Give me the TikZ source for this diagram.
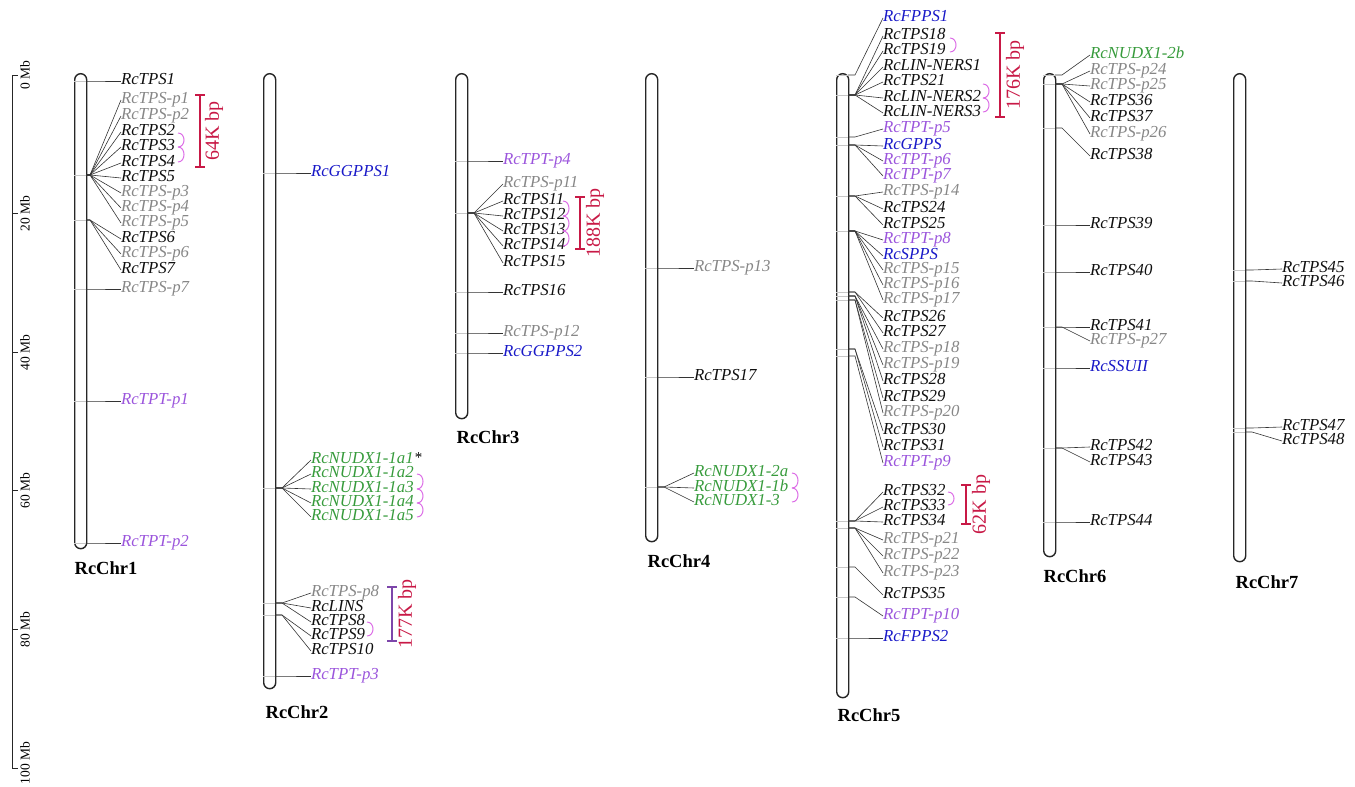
\documentclass[tikz,border=0pt]{standalone}
\usepackage{fontspec}
\setmainfont{Liberation Serif}
\definecolor{gblack}{RGB}{15,15,15}
\definecolor{ggray}{RGB}{135,135,135}
\definecolor{gpurple}{RGB}{155,85,220}
\definecolor{gblue}{RGB}{25,25,200}
\definecolor{ggreen}{RGB}{55,155,60}
\definecolor{bred}{RGB}{200,25,70}
\definecolor{bviolet}{RGB}{125,70,170}
\definecolor{dpink}{RGB}{220,110,230}
\tikzset{
 lab/.style={anchor=west,inner sep=0pt,outer sep=0pt,font=\fontsize{16.8}{17}\selectfont\itshape,text height=0.68em,text depth=0pt},
 K/.style={text=gblack}, Gy/.style={text=ggray}, Pu/.style={text=gpurple}, Bl/.style={text=gblue}, Gr/.style={text=ggreen},
 conn/.style={draw=black!80,line width=0.6pt},
 chrmark/.style={draw=black!22,line width=0.6pt},
 chrom/.style={draw=black!85,line width=1.4pt,fill=white,rounded corners=6pt,minimum width=12pt,inner sep=0pt,anchor=north west},
 chrlab/.style={font=\fontsize{18.5}{18.5}\selectfont\bfseries,inner sep=0pt},
 dup/.style={draw=dpink,line width=1pt},
 spanline/.style={line width=1.3pt},
 spanlab/.style={text=bred,font=\fontsize{20}{20}\selectfont,rotate=90,inner sep=0pt},
 scalelab/.style={font=\fontsize{13.5}{13.5}\selectfont,rotate=90,inner sep=0pt},
}
\newcommand\gn[5]{%
 \draw[chrmark] (\xr-12,#3) -- (\xr,#3);
 \coordinate (p#1) at (\xr,#3);
 \node[lab,#2] (#1) at (\xl,#4) {#5};
 \draw[conn] (p#1) -- (\xb,#3) -- (#1.west);
}
\newcommand\dupl[3]{\draw[dup] (#1,#2) .. controls +(8,0) and +(8,0) .. (#1,#3);}
\newcommand\bspan[7]{%
 \coordinate (#1t) at (#2,#3); \coordinate (#1b) at (#2,#4);
 \draw[spanline,draw=#5] (#1t) -- (#1b) (#2-5,#3) -- (#2+5,#3) (#2-5,#4) -- (#2+5,#4);
 \node[spanlab] (#1l) at (#6,#3/2+#4/2) {#7};
}
\begin{document}
\begin{tikzpicture}[x=1pt,y=-1pt]
\useasboundingbox (0,0) rectangle (1355,787);
% scale bar
\draw[line width=0.9pt,black!85] (12,75) -- (12,768);
\foreach \v in {0,20,40,60,80,100}{
 \draw[line width=0.9pt,black!85] (12,75+6.93*\v) -- (18,75+6.93*\v);
}
\node[scalelab] (s0) at (25,75) {0 Mb};
\node[scalelab] (s20) at (25,213.6) {20 Mb};
\node[scalelab] (s40) at (25,352.2) {40 Mb};
\node[scalelab] (s60) at (25,490.8) {60 Mb};
\node[scalelab] (s80) at (25,629.4) {80 Mb};
\node[scalelab] (s100) at (25,763) {100 Mb};
% chromosomes
\node[chrom,minimum height=475pt] (chr1) at (74,73) {};
\node[chrom,minimum height=615pt] (chr2) at (263,73) {};
\node[chrom,minimum height=345pt] (chr3) at (455,73) {};
\node[chrom,minimum height=468pt] (chr4) at (645,73) {};
\node[chrom,minimum height=624pt] (chr5) at (836,73) {};
\node[chrom,minimum height=483pt] (chr6) at (1043,73) {};
\node[chrom,minimum height=488pt] (chr7) at (1233,73) {};
\node[chrlab] (l1) at (106,568) {RcChr1};
\node[chrlab] (l2) at (297,712) {RcChr2};
\node[chrlab] (l3) at (488,437) {RcChr3};
\node[chrlab] (l4) at (679,561) {RcChr4};
\node[chrlab] (l5) at (869,715) {RcChr5};
\node[chrlab] (l6) at (1075,576) {RcChr6};
\node[chrlab] (l7) at (1267,582) {RcChr7};
% chr1
\def\xr{86}\def\xb{90}\def\xl{121}
\gn{c1a}{K}{81}{81}{RcTPS1}
\gn{c1b}{Gy}{175}{100}{RcTPS-p1}
\gn{c1c}{Gy}{175}{116}{RcTPS-p2}
\gn{c1d}{K}{175}{132}{RcTPS2}
\gn{c1e}{K}{175}{147}{RcTPS3}
\gn{c1f}{K}{175}{163}{RcTPS4}
\gn{c1g}{K}{175}{178}{RcTPS5}
\gn{c1h}{Gy}{175}{193}{RcTPS-p3}
\gn{c1i}{Gy}{175}{208}{RcTPS-p4}
\gn{c1j}{Gy}{175}{223}{RcTPS-p5}
\gn{c1k}{K}{220}{239}{RcTPS6}
\gn{c1l}{Gy}{220}{254}{RcTPS-p6}
\gn{c1m}{K}{220}{270}{RcTPS7}
\gn{c1n}{Gy}{289}{289}{RcTPS-p7}
\gn{c1o}{Pu}{401}{401}{RcTPT-p1}
\gn{c1p}{Pu}{543}{543}{RcTPT-p2}
% chr2
\def\xr{275}\def\xb{282}\def\xl{311}
\gn{c2a}{Bl}{173}{173}{RcGGPPS1}
\gn{c2b}{Gr}{488}{460}{RcNUDX1-1a1}
\gn{c2c}{Gr}{488}{474}{RcNUDX1-1a2}
\gn{c2d}{Gr}{488}{489}{RcNUDX1-1a3}
\gn{c2e}{Gr}{488}{503}{RcNUDX1-1a4}
\gn{c2f}{Gr}{488}{517}{RcNUDX1-1a5}
\gn{c2g}{Gy}{603}{593}{RcTPS-p8}
\gn{c2h}{K}{603}{608}{RcLINS}
\gn{c2i}{K}{603}{622}{RcTPS8}
\gn{c2j}{K}{615}{636}{RcTPS9}
\gn{c2k}{K}{615}{651}{RcTPS10}
\gn{c2l}{Pu}{676}{676}{RcTPT-p3}
\node[anchor=west,inner sep=1pt,font=\fontsize{15}{15}\selectfont] (star) at ([yshift=2pt]c2b.east) {*};
% chr3
\def\xr{467}\def\xb{474}\def\xl{503}
\gn{c3a}{Pu}{161}{161}{RcTPT-p4}
\gn{c3b}{Gy}{213}{184}{RcTPS-p11}
\gn{c3c}{K}{213}{201}{RcTPS11}
\gn{c3d}{K}{213}{216}{RcTPS12}
\gn{c3e}{K}{213}{231}{RcTPS13}
\gn{c3f}{K}{213}{246}{RcTPS14}
\gn{c3g}{K}{213}{263}{RcTPS15}
\gn{c3h}{K}{292}{292}{RcTPS16}
\gn{c3i}{Gy}{333}{333}{RcTPS-p12}
\gn{c3j}{Bl}{353}{353}{RcGGPPS2}
% chr4
\def\xr{657}\def\xb{664}\def\xl{694}
\gn{c4a}{Gy}{268}{268}{RcTPS-p13}
\gn{c4b}{K}{377}{377}{RcTPS17}
\gn{c4c}{Gr}{487}{473}{RcNUDX1-2a}
\gn{c4d}{Gr}{487}{488}{RcNUDX1-1b}
\gn{c4e}{Gr}{487}{502}{RcNUDX1-3}
% chr5
\def\xr{848}\def\xb{855}\def\xl{883}
\gn{c5a}{Bl}{75}{18}{RcFPPS1}
\gn{c5b}{K}{95}{36}{RcTPS18}
\gn{c5c}{K}{95}{51}{RcTPS19}
\gn{c5d}{K}{95}{67}{RcLIN-NERS1}
\gn{c5e}{K}{95}{82}{RcTPS21}
\gn{c5f}{K}{95}{98}{RcLIN-NERS2}
\gn{c5g}{K}{95}{113}{RcLIN-NERS3}
\gn{c5h}{Pu}{137}{129}{RcTPT-p5}
\gn{c5i}{Bl}{145}{146}{RcGPPS}
\gn{c5j}{Pu}{145}{161}{RcTPT-p6}
\gn{c5k}{Pu}{145}{176}{RcTPT-p7}
\gn{c5l}{Gy}{196}{192}{RcTPS-p14}
\gn{c5m}{K}{196}{209}{RcTPS24}
\gn{c5n}{K}{196}{225}{RcTPS25}
\gn{c5o}{Pu}{231}{240}{RcTPT-p8}
\gn{c5p}{Bl}{231}{256}{RcSPPS}
\gn{c5q}{Gy}{231}{270}{RcTPS-p15}
\gn{c5r}{Gy}{231}{285}{RcTPS-p16}
\gn{c5s}{Gy}{231}{300}{RcTPS-p17}
\gn{c5t}{K}{292}{318}{RcTPS26}
\gn{c5u}{K}{292}{333}{RcTPS27}
\gn{c5v}{Gy}{296}{349}{RcTPS-p18}
\gn{c5w}{Gy}{296}{365}{RcTPS-p19}
\gn{c5x}{K}{296}{381}{RcTPS28}
\gn{c5y}{K}{300}{398}{RcTPS29}
\gn{c5z}{Gy}{300}{413}{RcTPS-p20}
\gn{c5A}{K}{349}{431}{RcTPS30}
\gn{c5B}{K}{349}{447}{RcTPS31}
\gn{c5C}{Pu}{356}{463}{RcTPT-p9}
\gn{c5D}{K}{521}{492}{RcTPS32}
\gn{c5E}{K}{521}{507}{RcTPS33}
\gn{c5F}{K}{521}{522}{RcTPS34}
\gn{c5G}{Gy}{528}{540}{RcTPS-p21}
\gn{c5H}{Gy}{528}{556}{RcTPS-p22}
\gn{c5I}{Gy}{528}{573}{RcTPS-p23}
\gn{c5J}{K}{567}{595}{RcTPS35}
\gn{c5K}{Pu}{597}{616}{RcTPT-p10}
\gn{c5L}{Bl}{638}{638}{RcFPPS2}
% chr6
\def\xr{1055}\def\xb{1062}\def\xl{1090}
\gn{c6a}{Gr}{75}{55}{RcNUDX1-2b}
\gn{c6b}{Gy}{84}{71}{RcTPS-p24}
\gn{c6c}{Gy}{84}{86}{RcTPS-p25}
\gn{c6d}{K}{84}{102}{RcTPS36}
\gn{c6e}{K}{84}{118}{RcTPS37}
\gn{c6f}{Gy}{84}{134}{RcTPS-p26}
\gn{c6g}{K}{128}{156}{RcTPS38}
\gn{c6h}{K}{225}{225}{RcTPS39}
\gn{c6i}{K}{272}{272}{RcTPS40}
\gn{c6j}{K}{327}{327}{RcTPS41}
\gn{c6k}{Gy}{327}{341}{RcTPS-p27}
\gn{c6l}{Bl}{368}{368}{RcSSUII}
\gn{c6m}{K}{448}{447}{RcTPS42}
\gn{c6n}{K}{448}{462}{RcTPS43}
\gn{c6o}{K}{522}{522}{RcTPS44}
% chr7
\def\xr{1245}\def\xb{1252}\def\xl{1282}
\gn{c7a}{K}{270}{269}{RcTPS45}
\gn{c7b}{K}{281}{283}{RcTPS46}
\gn{c7c}{K}{428}{427}{RcTPS47}
\gn{c7d}{K}{432}{441}{RcTPS48}
% tandem duplication arcs
\dupl{178}{133}{147}\dupl{178}{147}{162}
\dupl{417}{474}{489}\dupl{417}{489}{503}\dupl{417}{503}{517}
\dupl{367}{622}{636}
\dupl{563}{201}{216}\dupl{563}{216}{231}\dupl{563}{231}{246}
\dupl{792}{473}{488}\dupl{792}{488}{502}
\dupl{950}{38}{52}
\dupl{983}{84}{98}\dupl{983}{98}{112}
\dupl{948}{492}{505}
% cluster spans
\bspan{ba}{200}{95}{167}{bred}{214}{64K bp}
\bspan{bb}{392}{587}{641}{bviolet}{407}{177K bp}
\bspan{bc}{580}{197}{249}{bred}{595}{188K bp}
\bspan{bd}{1000}{33}{117}{bred}{1015}{176K bp}
\bspan{be}{966}{485}{524}{bred}{981}{62K bp}
\end{tikzpicture}
\end{document}
